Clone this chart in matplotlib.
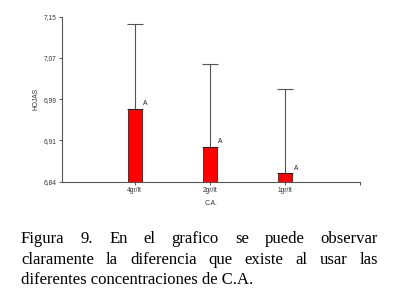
import numpy as np
import matplotlib
matplotlib.use("Agg")
import matplotlib.pyplot as plt

# datos
categorias = ["4gr/lt", "2gr/lt", "1gr/lt"]
medias = [6.977, 6.905, 6.856]
limite_sup = [7.136, 7.062, 7.014]
letras = ["A", "A", "A"]
ytick_labels = ["6,84", "6,91", "6,99", "7,07", "7,15"]

caption_lines = [
    "Figura 9. En el grafico se puede observar",
    "claramente la diferencia que existe al usar las",
    "diferentes concentraciones de C.A.",
]

W, H = 408, 296
fig = plt.figure(figsize=(W / 100, H / 100), dpi=100)
fig.patch.set_facecolor("white")

ax = fig.add_axes([62 / W, 1 - 181.7 / H, (360 - 62) / W, (181.7 - 16.7) / H])

y0, y1 = 6.84, 7.15
x = np.arange(1, len(categorias) + 1)
ancho = 0.185
alturas = np.array(medias) - y0
err = np.array(limite_sup) - np.array(medias)

gris = "#555555"
ax.bar(x, alturas, bottom=y0, width=ancho, color="#ff0000",
       edgecolor="#3a0000", linewidth=0.5, zorder=2)
ax.errorbar(x, medias, yerr=[np.zeros_like(err), err], fmt="none",
            ecolor=gris, elinewidth=0.8, capsize=6, capthick=0.8, zorder=1)

for xi, m, l in zip(x, medias, letras):
    ax.annotate(l, (xi + ancho / 2, m), xytext=(1.2, 1.2),
                textcoords="offset points", ha="left", va="bottom",
                fontsize=4.8, family="Liberation Sans", color="#222222")

ax.set_xlim(0.03, 4.0)
ax.set_ylim(y0, y1)
ax.set_yticks(np.linspace(y0, y1, 5))
ax.set_yticklabels(ytick_labels)
ax.set_xticks(list(x) + [4.0])
ax.set_xticklabels(categorias + [""])

for s in ["top", "right"]:
    ax.spines[s].set_visible(False)
for s in ["left", "bottom"]:
    ax.spines[s].set_color(gris)
    ax.spines[s].set_linewidth(0.8)

ax.tick_params(axis="both", colors=gris, length=2.5, width=0.7, pad=1.5,
               labelsize=4.8, labelcolor="#333333")
for t in ax.get_xticklabels() + ax.get_yticklabels():
    t.set_family("Liberation Sans")

ax.set_ylabel("HOJAS", fontsize=4.8, family="Liberation Sans", color="#333333", labelpad=3)
ax.set_xlabel("C.A.", fontsize=4.8, family="Liberation Sans", color="#333333", labelpad=4)

# pie de figura justificado
fs = 12
left_px, right_px = 21, 378
baselines = [243, 263.5, 284]
renderer = fig.canvas.get_renderer()
for i, (linea, by) in enumerate(zip(caption_lines, baselines)):
    palabras = linea.split(" ")
    yf = 1 - by / H
    if i == len(caption_lines) - 1:
        fig.text(left_px / W, yf, linea, fontsize=fs, family="Liberation Serif",
                 va="baseline", ha="left")
        continue
    textos = [fig.text(0, yf, p, fontsize=fs, family="Liberation Serif",
                       va="baseline", ha="left") for p in palabras]
    anchos = [t.get_window_extent(renderer).width for t in textos]
    hueco = (right_px - left_px - sum(anchos)) / (len(palabras) - 1)
    pos = left_px
    for t, a in zip(textos, anchos):
        t.set_x(pos / W)
        pos += a + hueco

fig.savefig("out.png", dpi=100)
